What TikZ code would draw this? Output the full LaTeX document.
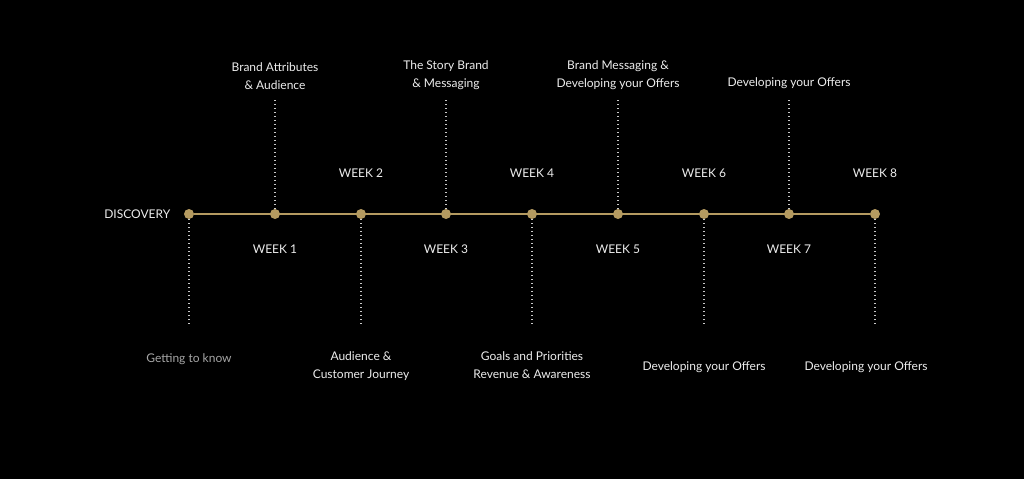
\documentclass[tikz,border=0pt]{standalone}
\usepackage{fontspec}
\setmainfont{Lato}
\usetikzlibrary{positioning}
\definecolor{gold}{HTML}{B49A60}
\definecolor{ink}{HTML}{EDEDED}
\definecolor{faint}{HTML}{A6A6A6}

\begin{document}
\begin{tikzpicture}[x=1pt, y=-1pt,
  dot/.style={circle, fill=gold, inner sep=0pt, minimum size=10pt},
  rail/.style={gold, line width=1.6pt},
  stem/.style={ink!85!black, line width=1.2pt, dash pattern=on 1.2pt off 2.8pt},
  week/.style={text=ink, font=\fontsize{12}{14}\selectfont},
  note/.style={text=ink, align=center, inner sep=0pt, font=\fontsize{12}{18}\selectfont}]
  \fill[black] (0,0) rectangle (1024,479);
  \useasboundingbox (0,0) rectangle (1024,479);
  % milestones on the rail
  \foreach \i/\x in {0/189,1/275,2/361,3/446,4/532,5/618,6/704,7/789,8/875}
    \node[dot] (w\i) at (\x,214) {};
  \draw[rail] (w0) -- (w8);
  \node[week, left=10pt of w0] (disc) {DISCOVERY};
  % week labels, odd below, even above
  \foreach \i in {1,3,5,7}
    \path (w\i) ++(0,35) node[week] (l\i) {WEEK \i};
  \foreach \i in {2,4,6,8}
    \path (w\i) ++(0,-41) node[week] (l\i) {WEEK \i};
  % dotted stems
  \foreach \i in {1,3,5,7} {
    \path (w\i) ++(0,-114) coordinate (t\i);
    \draw[stem] (w\i) -- (t\i);
  }
  \foreach \i in {0,2,4,6,8} {
    \path (w\i) ++(0,112) coordinate (b\i);
    \draw[stem] (w\i) -- (b\i);
  }
  % topics above
  \node[note, above=10pt of t1] (n1) {Brand Attributes\\\& Audience};
  \node[note, above=10pt of t3] (n3) {The Story Brand\\\& Messaging};
  \node[note, above=10pt of t5] (n5) {Brand Messaging \&\\Developing your Offers};
  \node[note, above=11pt of t7] (n7) {Developing your Offers};
  % topics below
  \node[note, text=faint, below=27pt of b0] (n0) {Getting to know};
  \node[note, below=25pt of b2] (n2) {Audience \&\\Customer Journey};
  \node[note, below=25pt of b4] (n4) {Goals and Priorities\\Revenue \& Awareness};
  \node[note, below=35pt of b6] (n6) {Developing your Offers};
  \node[note, below=35pt of b8, xshift=-9pt] (n8) {Developing your Offers};
\end{tikzpicture}
\end{document}
